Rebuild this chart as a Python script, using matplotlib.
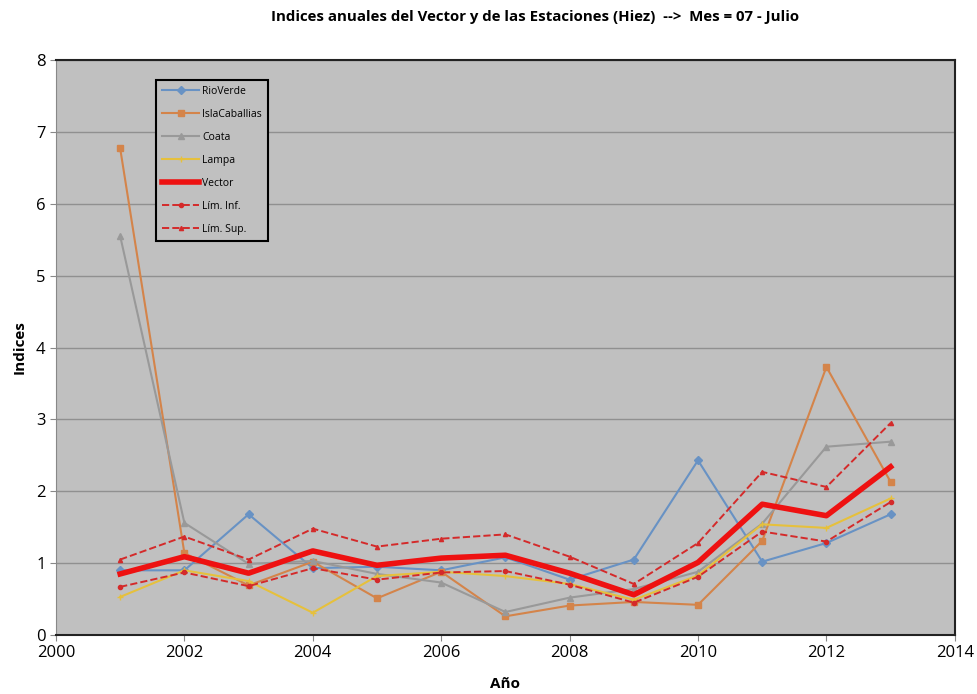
import matplotlib.pyplot as plt

# data
years = [2001, 2002, 2003, 2004, 2005, 2006, 2007, 2008, 2009, 2010, 2011, 2012, 2013]
rio_verde = [0.90, 0.90, 1.68, 0.93, 0.95, 0.90, 1.08, 0.77, 1.05, 2.43, 1.02, 1.28, 1.68]
isla_caballias = [6.77, 1.14, 0.69, 1.02, 0.51, 0.88, 0.26, 0.41, 0.46, 0.42, 1.31, 3.73, 2.13]
coata = [5.55, 1.56, 0.99, 1.03, 0.85, 0.73, 0.32, 0.52, 0.64, 0.88, 1.55, 2.62, 2.69]
lampa = [0.53, 0.90, 0.75, 0.31, 0.82, 0.88, 0.82, 0.71, 0.49, 0.83, 1.54, 1.49, 1.90]
vector = [0.85, 1.09, 0.86, 1.17, 0.97, 1.07, 1.11, 0.86, 0.56, 1.01, 1.82, 1.66, 2.34]
lim_inf = [0.67, 0.87, 0.68, 0.93, 0.77, 0.87, 0.89, 0.70, 0.45, 0.81, 1.44, 1.30, 1.85]
lim_sup = [1.05, 1.37, 1.05, 1.48, 1.23, 1.34, 1.40, 1.09, 0.71, 1.28, 2.27, 2.06, 2.95]

plt.rcParams['font.family'] = ['Open Sans', 'DejaVu Sans']

fig = plt.figure(figsize=(9.77, 6.94), dpi=100)
ax = fig.add_axes([0.0573, 0.085, 0.92, 0.8285])
ax.set_facecolor('#c0c0c0')

ax.plot(years, rio_verde, color='#6892c4', lw=1.5, marker='D', ms=4, label='RioVerde')
ax.plot(years, isla_caballias, color='#d4844a', lw=1.5, marker='s', ms=5, label='IslaCaballias')
ax.plot(years, coata, color='#999999', lw=1.5, marker='^', ms=5, label='Coata')
ax.plot(years, lampa, color='#e6c03c', lw=1.5, marker='+', ms=5, label='Lampa')
ax.plot(years, vector, color='#ee1111', lw=4, label='Vector')
ax.plot(years, lim_inf, color='#d42a2a', lw=1.4, ls='--', marker='o', ms=3, label='Lím. Inf.')
ax.plot(years, lim_sup, color='#d42a2a', lw=1.4, ls='--', marker='^', ms=3, label='Lím. Sup.')

ax.set_xlim(2000, 2014)
ax.set_ylim(0, 8)
ax.set_xticks(range(2000, 2015, 2))
ax.set_yticks(range(0, 9))
ax.yaxis.grid(True, color='#909090', lw=1.0)
ax.set_axisbelow(True)
ax.tick_params(labelsize=12, length=4, color='#888888')

for s in ['top', 'right', 'bottom']:
    ax.spines[s].set_color('#222222')
    ax.spines[s].set_linewidth(1.5)
ax.spines['left'].set_color('#888888')

ax.set_xlabel('Año', fontsize=11, fontweight='bold', labelpad=11)
ax.set_ylabel('Indices', fontsize=11, fontweight='bold', labelpad=7)
fig.suptitle('Indices anuales del Vector y de las Estaciones (Hiez)  -->  Mes = 07 - Julio',
             x=0.548, y=0.985, fontsize=10.8, fontweight='bold')

leg = ax.legend(loc='upper left', bbox_to_anchor=(0.105, 0.975), fontsize=7.5,
                facecolor='#c0c0c0', edgecolor='black', framealpha=1, fancybox=False,
                handlelength=3.6, labelspacing=1.15, borderpad=0.6, handletextpad=0.3)
leg.get_frame().set_linewidth(1.5)

fig.savefig('out.png', dpi=100)
